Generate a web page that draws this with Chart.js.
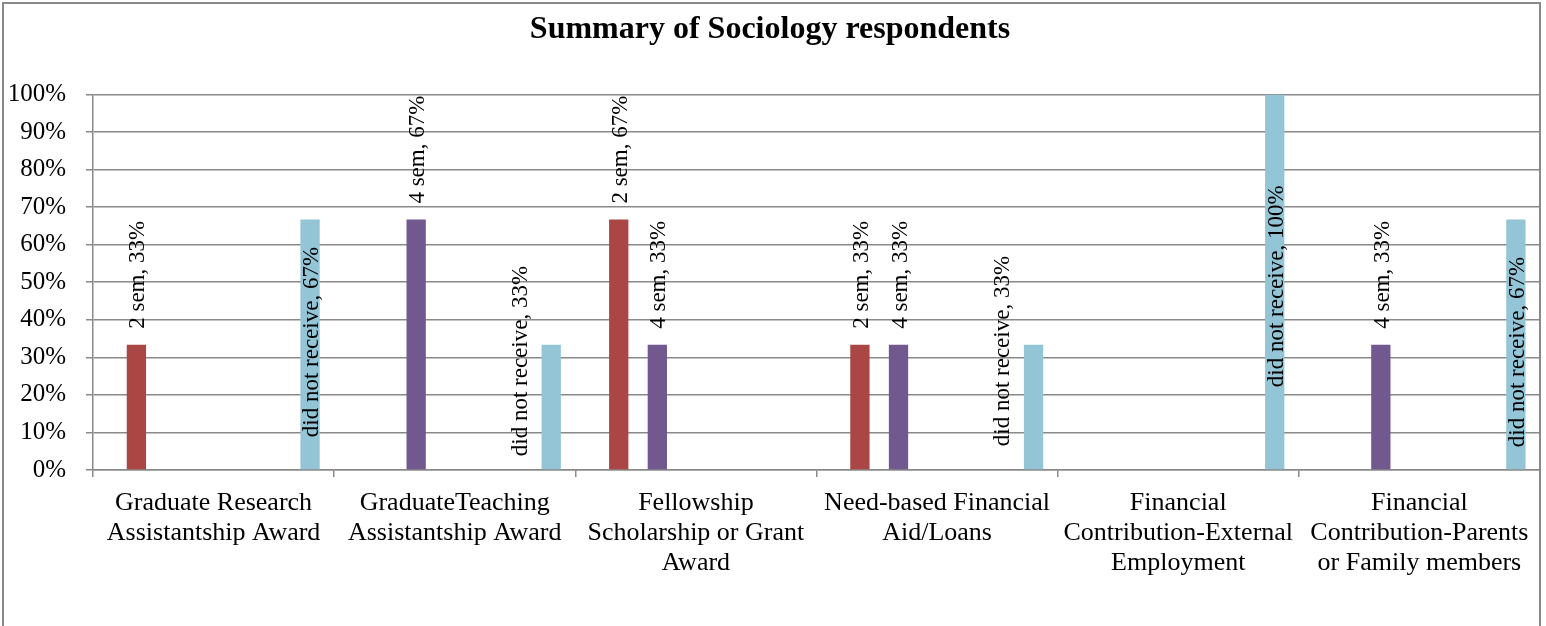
<!DOCTYPE html>
<html>
<head>
<meta charset="utf-8">
<title>Summary of Sociology respondents</title>
<script src="https://cdn.jsdelivr.net/npm/chart.js@4.4.0/dist/chart.umd.min.js"></script>
<style>
  html, body { margin: 0; padding: 0; background: #fff; }
  canvas { display: block; }
</style>
</head>
<body>
<canvas id="myChart" width="1546" height="626"></canvas>
<script>
// categorias (ya partidas en lineas como en el original)
const categories = [
  ['Graduate Research', 'Assistantship Award'],
  ['GraduateTeaching', 'Assistantship Award'],
  ['Fellowship', 'Scholarship or Grant', 'Award'],
  ['Need-based Financial', 'Aid/Loans'],
  ['Financial', 'Contribution-External', 'Employment'],
  ['Financial', 'Contribution-Parents', 'or Family members']
];

// 11 series in the source sheet, only three of them have values
const seriesNames = ['1 sem', '2 sem', '3 sem', '4 sem', '5 sem', '6 sem',
  '7 sem', '8 sem', '9 sem', '10 sem', 'did not receive'];

const sem2 = [33.33, null, 66.67, 33.33, null, null];
const sem4 = [null, 66.67, 33.33, 33.33, null, 33.33];
const didNotReceive = [66.67, 33.33, null, 33.33, 100, 66.67];
const noValues = [null, null, null, null, null, null];

const seriesValues = [noValues, sem2, noValues, sem4, noValues, noValues,
  noValues, noValues, noValues, noValues, didNotReceive];

const seriesColors = ['#4F81BD', '#AA4643', '#9BBB59', '#71588F', '#4BACC6', '#F79646',
  '#2C4D75', '#772C2A', '#5F7530', '#4D3B62', '#93C5D6'];

// etiquetas que en el original estan movidas a mano (px sobre la base, dx)
const labelNudges = {
  '10-0': { up: 32, dx: 0 },
  '10-1': { up: 13, dx: -32 },
  '10-3': { up: 23, dx: -33 },
  '10-4': { up: 82, dx: 0 },
  '10-5': { up: 22, dx: 0 }
};

const serif = '"Times New Roman", "Liberation Serif", serif';
const gridGray = '#898989';

Chart.defaults.font.family = serif;
Chart.defaults.color = '#000';

const frameAndLabels = {
  id: 'frameAndLabels',
  beforeDraw(chart) {
    const ctx = chart.ctx;
    ctx.save();
    ctx.fillStyle = '#fff';
    ctx.fillRect(0, 0, chart.width, chart.height);
    ctx.strokeStyle = gridGray;
    ctx.lineWidth = 2;
    ctx.strokeRect(3, 3, chart.chartArea.right - 3, chart.height + 20);
    ctx.restore();
  },
  afterDatasetsDraw(chart) {
    const ctx = chart.ctx;
    ctx.save();
    ctx.font = '23px ' + serif;
    ctx.fillStyle = '#000';
    ctx.textAlign = 'left';
    ctx.textBaseline = 'middle';
    chart.data.datasets.forEach((ds, i) => {
      const meta = chart.getDatasetMeta(i);
      meta.data.forEach((bar, j) => {
        const v = ds.data[j];
        if (v == null) return;
        const nudge = labelNudges[i + '-' + j];
        let x = bar.x;
        let y = bar.y - 16;
        if (nudge) {
          x += nudge.dx;
          y = bar.base - nudge.up;
        }
        ctx.save();
        ctx.translate(x, y);
        ctx.rotate(-Math.PI / 2);
        ctx.fillText(ds.label + ', ' + Math.round(v) + '%', 0, 2);
        ctx.restore();
      });
    });
    ctx.restore();
  }
};

const data = {
  labels: categories,
  datasets: seriesNames.map((name, i) => ({
    label: name,
    data: seriesValues[i],
    backgroundColor: seriesColors[i],
    borderWidth: 0,
    categoryPercentage: 0.88,
    barPercentage: 1.0
  }))
};

const config = {
  type: 'bar',
  data,
  options: {
    responsive: false,
    animation: false,
    layout: {
      padding: { left: 0, right: 6, top: 0, bottom: 0 }
    },
    plugins: {
      legend: { display: false },
      tooltip: { enabled: false },
      title: {
        display: true,
        text: 'Summary of Sociology respondents',
        color: '#000',
        padding: { top: 11, bottom: 45 },
        font: {
          size: 32,
          weight: 'bold'
        }
      }
    },
    scales: {
      x: {
        afterFit(scale) { scale.height = 156; },
        grid: {
          display: true,
          drawOnChartArea: false,
          tickLength: 7,
          color: gridGray,
          lineWidth: 1.5
        },
        border: { display: true, color: gridGray, width: 1.5 },
        ticks: {
          maxRotation: 0,
          autoSkip: false,
          padding: 11,
          color: '#000',
          font: { size: 26, lineHeight: 1.15 }
        }
      },
      y: {
        min: 0,
        max: 100,
        afterFit(scale) { scale.width = 93; },
        grid: {
          color: gridGray,
          lineWidth: 1.5,
          tickLength: 7
        },
        border: { display: true, color: gridGray, width: 1.5 },
        ticks: {
          stepSize: 10,
          padding: 20,
          color: '#000',
          font: { size: 25 },
          callback: (v) => v + '%'
        }
      }
    }
  },
  plugins: [frameAndLabels]
};

const myChart = new Chart(
  document.getElementById('myChart'),
  config
);
</script>
</body>
</html>
